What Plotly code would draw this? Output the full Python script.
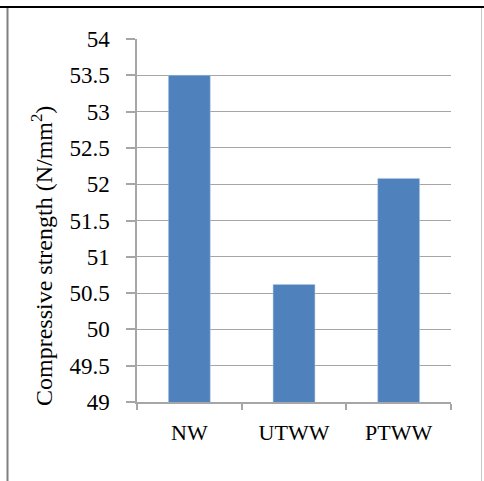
import plotly.graph_objects as go

categories = ["NW", "UTWW", "PTWW"]
strength = [53.5, 50.62, 52.08]
y_ticks = [49, 49.5, 50, 50.5, 51, 51.5, 52, 52.5, 53, 53.5, 54]
y_ticklabels = ["49", "49.5", "50", "50.5", "51", "51.5", "52", "52.5", "53", "53.5", "54"]
y_title = "Compressive strength (N/mm<sup>2</sup>)"

W, H = 484, 481
L, R, T, B = 137, 33, 39, 79
pw, ph = W - L - R, H - T - B

def px(x):
    return (x - L) / pw

def py(y):
    return (H - B - y) / ph

fig = go.Figure(go.Bar(
    x=categories, y=strength, marker_color="#4F81BD",
    marker_line=dict(color="#B9CDE5", width=0.5), width=0.4,
))

font_family = "Liberation Serif"

fig.update_layout(
    width=W, height=H,
    margin=dict(l=L, r=R, t=T, b=B),
    paper_bgcolor="white", plot_bgcolor="white",
    showlegend=False,
    font=dict(family=font_family, size=20, color="black"),
    xaxis=dict(
        showline=True, linecolor="#A6A6A6", linewidth=1.5,
        ticks="outside", ticklen=6, tickcolor="#A6A6A6", tickwidth=1.5,
        tickson="boundaries", showgrid=False,
        tickfont=dict(family=font_family, size=22),
        ticklabelstandoff=10,
    ),
    yaxis=dict(
        range=[49, 54], tickvals=y_ticks, ticktext=y_ticklabels,
        showline=True, linecolor="#A6A6A6", linewidth=1.5,
        ticks="outside", ticklen=9, tickcolor="#A6A6A6", tickwidth=1.5,
        showgrid=True, gridcolor="#A6A6A6", gridwidth=1.2,
        zeroline=False,
        tickfont=dict(family=font_family, size=23),
        ticklabelstandoff=12,
    ),
    annotations=[
        dict(text=y_title, textangle=-90, xref="paper", yref="paper",
             x=px(42), y=py(256), xanchor="center", yanchor="middle",
             showarrow=False, font=dict(family=font_family, size=24)),
    ],
    shapes=[
        dict(type="line", xref="paper", yref="paper",
             x0=px(0), x1=px(W), y0=py(7), y1=py(7),
             line=dict(color="black", width=2)),
        dict(type="line", xref="paper", yref="paper",
             x0=px(7.5), x1=px(7.5), y0=py(8), y1=py(H + 2),
             line=dict(color="#808080", width=2)),
        dict(type="line", xref="paper", yref="paper",
             x0=px(481.5), x1=px(481.5), y0=py(8), y1=py(H + 2),
             line=dict(color="#C8C8C8", width=1)),
    ],
)

fig.write_html(
    "out.html",
    config={"displayModeBar": False},
    post_script="document.body.style.margin='0';document.body.style.overflow='hidden';",
)
